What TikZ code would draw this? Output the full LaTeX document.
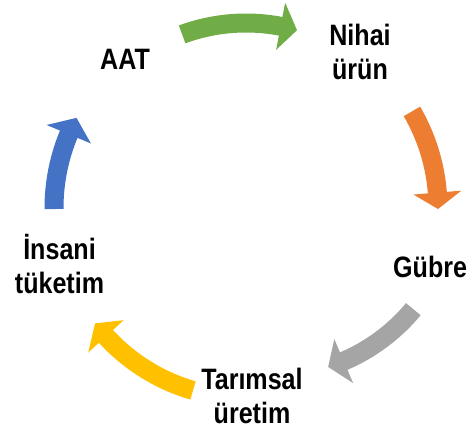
\documentclass[tikz,border=0pt]{standalone}
\usepackage{fontspec}
\newfontfamily\lblfont{Liberation Sans}[FakeStretch=0.85]
\definecolor{cgreen}{HTML}{70AD47}
\definecolor{corange}{HTML}{ED7D31}
\definecolor{cgray}{HTML}{A5A5A5}
\definecolor{cyellow}{HTML}{FFC000}
\definecolor{cblue}{HTML}{4472C4}
% #1 centre, #2 radius, #3 tail angle, #4 head base angle, #5 tip angle, #6 colour
\newcommand\cycarrow[6]{%
  \begin{scope}[shift={(#1)}]
    \fill[#6] ({#3}:{(#2+9.5)*1pt}) arc[start angle={#3}, end angle={#4}, radius={(#2+9.5)*1pt}]
      -- ({#4}:{(#2+24)*1pt}) -- ({#5}:{(#2)*1pt}) -- ({#4}:{(#2-24)*1pt})
      -- ({#4}:{(#2-9.5)*1pt})
      arc[start angle={#4}, end angle={#3}, radius={(#2-9.5)*1pt}] -- cycle;
  \end{scope}}
\begin{document}
\begin{tikzpicture}[x=1pt,y=1pt,
  lbl/.style={font=\lblfont\bfseries\fontsize{29.5}{34}\selectfont, align=center, inner sep=0pt}]
\useasboundingbox (0,0) rectangle (468,432);
% labels
\node[lbl, anchor=base] (aat) at (125,362) {AAT};
\node[lbl] (nihai) at (360,380) {Nihai\\ürün};
\node[lbl, anchor=base west] (gubre) at (393,155) {Gübre};
\node[lbl] (tarimsal) at (252,36.5) {Tarımsal\\üretim};
\node[lbl] (insani) at (59.5,167.5) {İnsani\\tüketim};
% arrows
\cycarrow{246,224}{185}{110.2}{79.2}{74.0}{cgreen}
\cycarrow{246,224}{192}{30.2}{4.6}{-0.3}{corange}
\cycarrow{271,241}{185}{-39.7}{-66.85}{-72.0}{cgray}
\cycarrow{246,224}{190}{253.8}{222.5}{217.4}{cyellow}
\cycarrow{246,224}{192}{180.3}{157.4}{152.0}{cblue}
\end{tikzpicture}
\end{document}
